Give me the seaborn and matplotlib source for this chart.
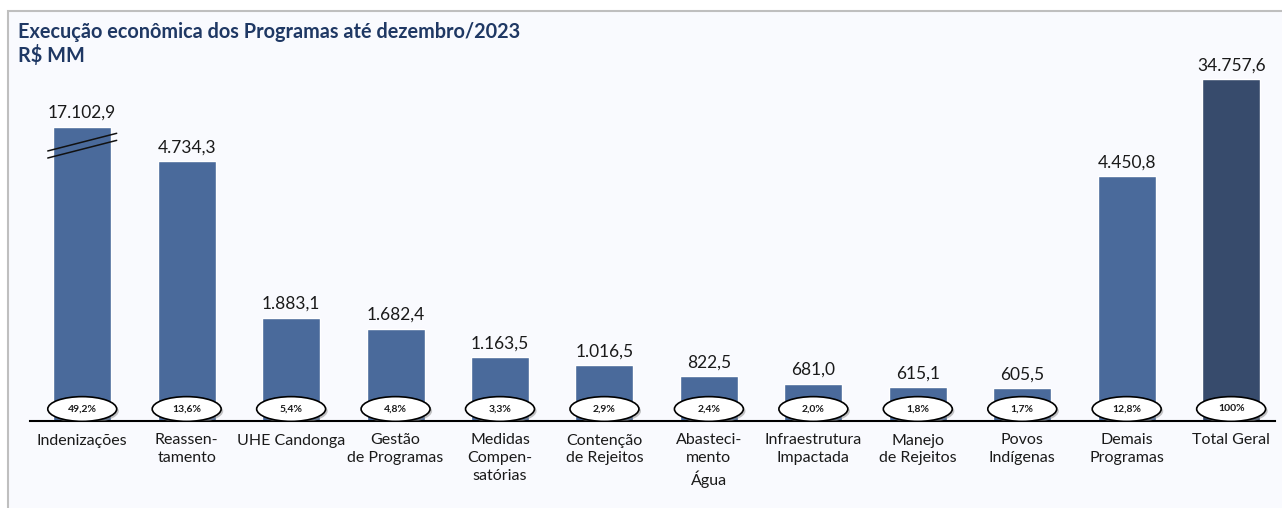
import numpy as np
import pandas as pd
import matplotlib
matplotlib.use("Agg")
import matplotlib.pyplot as plt
import seaborn as sns
from matplotlib.patches import Ellipse, Rectangle
from matplotlib.lines import Line2D
import matplotlib.transforms as mtransforms

categories = ["Indenizações", "Reassen-\ntamento", "UHE Candonga", "Gestão\nde Programas",
              "Medidas\nCompen-\nsatórias", "Contenção\nde Rejeitos", "Abasteci-\nmento\nÁgua",
              "Infraestrutura\nImpactada", "Manejo\nde Rejeitos", "Povos\nIndígenas",
              "Demais\nProgramas", "Total Geral"]
values = [17102.9, 4734.3, 1883.1, 1682.4, 1163.5, 1016.5, 822.5, 681.0, 615.1, 605.5, 4450.8, 34757.6]
value_labels = ["17.102,9", "4.734,3", "1.883,1", "1.682,4", "1.163,5", "1.016,5", "822,5",
                "681,0", "615,1", "605,5", "4.450,8", "34.757,6"]
pct_labels = ["49,2%", "13,6%", "5,4%", "4,8%", "3,3%", "2,9%", "2,4%", "2,0%", "1,8%",
              "1,7%", "12,8%", "100%"]

BAR = "#4a6a9b"
TOTAL = "#374b6c"
colors = [BAR] * 11 + [TOTAL]

sns.set_theme(style="white")
plt.rcParams["font.family"] = ["Lato", "DejaVu Sans"]

W, H = 1282, 508
fig = plt.figure(figsize=(W / 100, H / 100), dpi=100)
fig.patch.set_facecolor("white")
# slide frame
fig.patches.append(Rectangle((8 / W, -0.1), 1.1, 1.1 - 11 / H, transform=fig.transFigure,
                             facecolor="#f9fafe", edgecolor="#bfbfbf", linewidth=1.5, zorder=-5))

ax = fig.add_axes([30 / W, (H - 421) / H, (1275 - 30) / W, (421 - 68) / H])
ax.set_facecolor("none")

df = pd.DataFrame({"cat": categories, "val": values})
sns.barplot(data=df, x="cat", y="val", hue="cat", palette=colors, legend=False,
            width=0.555, ax=ax, saturation=1)

# broken-axis scale: linear up to T, compressed above
T, K = 4750.0, 0.0492
def fwd(v):
    v = np.asarray(v, dtype=float)
    return np.where(v <= T, v, T + (v - T) * K)
def inv(u):
    u = np.asarray(u, dtype=float)
    return np.where(u <= T, u, T + (u - T) / K)
ax.set_yscale("function", functions=(fwd, inv))
ax.set_ylim(0, 38800)
ax.set_xlim(-0.5, 11.42)

for s in ["top", "right", "left"]:
    ax.spines[s].set_visible(False)
ax.spines["bottom"].set_color("black")
ax.spines["bottom"].set_linewidth(1.5)
ax.set_yticks([])
ax.set_ylabel("")
ax.set_xlabel("")
ax.tick_params(axis="x", length=0, pad=9)
ax.set_xticks(range(len(categories)))
ax.set_xticklabels(categories, fontsize=11.5, color="#1a1a1a", linespacing=1.35, va="top")

for i, (v, lab) in enumerate(zip(values, value_labels)):
    ax.annotate(lab, (i, v), xytext=(0, 4), textcoords="offset points",
                ha="center", va="bottom", fontsize=12.5, color="#1a1a1a")

xt = ax.get_xaxis_transform()
shadow = xt + mtransforms.ScaledTranslation(1.5 / 72, -1.5 / 72, fig.dpi_scale_trans)
for i, p in enumerate(pct_labels):
    ax.add_patch(Ellipse((i, 0.034), 0.66, 0.07, transform=shadow, facecolor="#8a8a8a",
                         edgecolor="none", alpha=0.5, zorder=4))
    ax.add_patch(Ellipse((i, 0.034), 0.66, 0.07, transform=xt, facecolor="white",
                         edgecolor="black", linewidth=1.2, zorder=5))
    ax.text(i, 0.034, p, transform=xt, ha="center", va="center", fontsize=7.5,
            fontweight="bold", color="#1a1a1a", zorder=6)

# break marks on the first bar
for dy in (0.0, 0.02):
    ax.add_line(Line2D([-0.33, 0.33], [0.765 - dy, 0.815 - dy], transform=xt,
                       color="#111111", linewidth=1.1, zorder=6))

fig.text(18 / W, 1 - 38 / H, "Execução econômica dos Programas até dezembro/2023",
         fontsize=14.3, fontweight="bold", color="#1f3864", va="baseline")
fig.text(18 / W, 1 - 62 / H, "R$ MM", fontsize=14.3, fontweight="bold",
         color="#1f3864", va="baseline")

fig.savefig("out.png", dpi=100)
